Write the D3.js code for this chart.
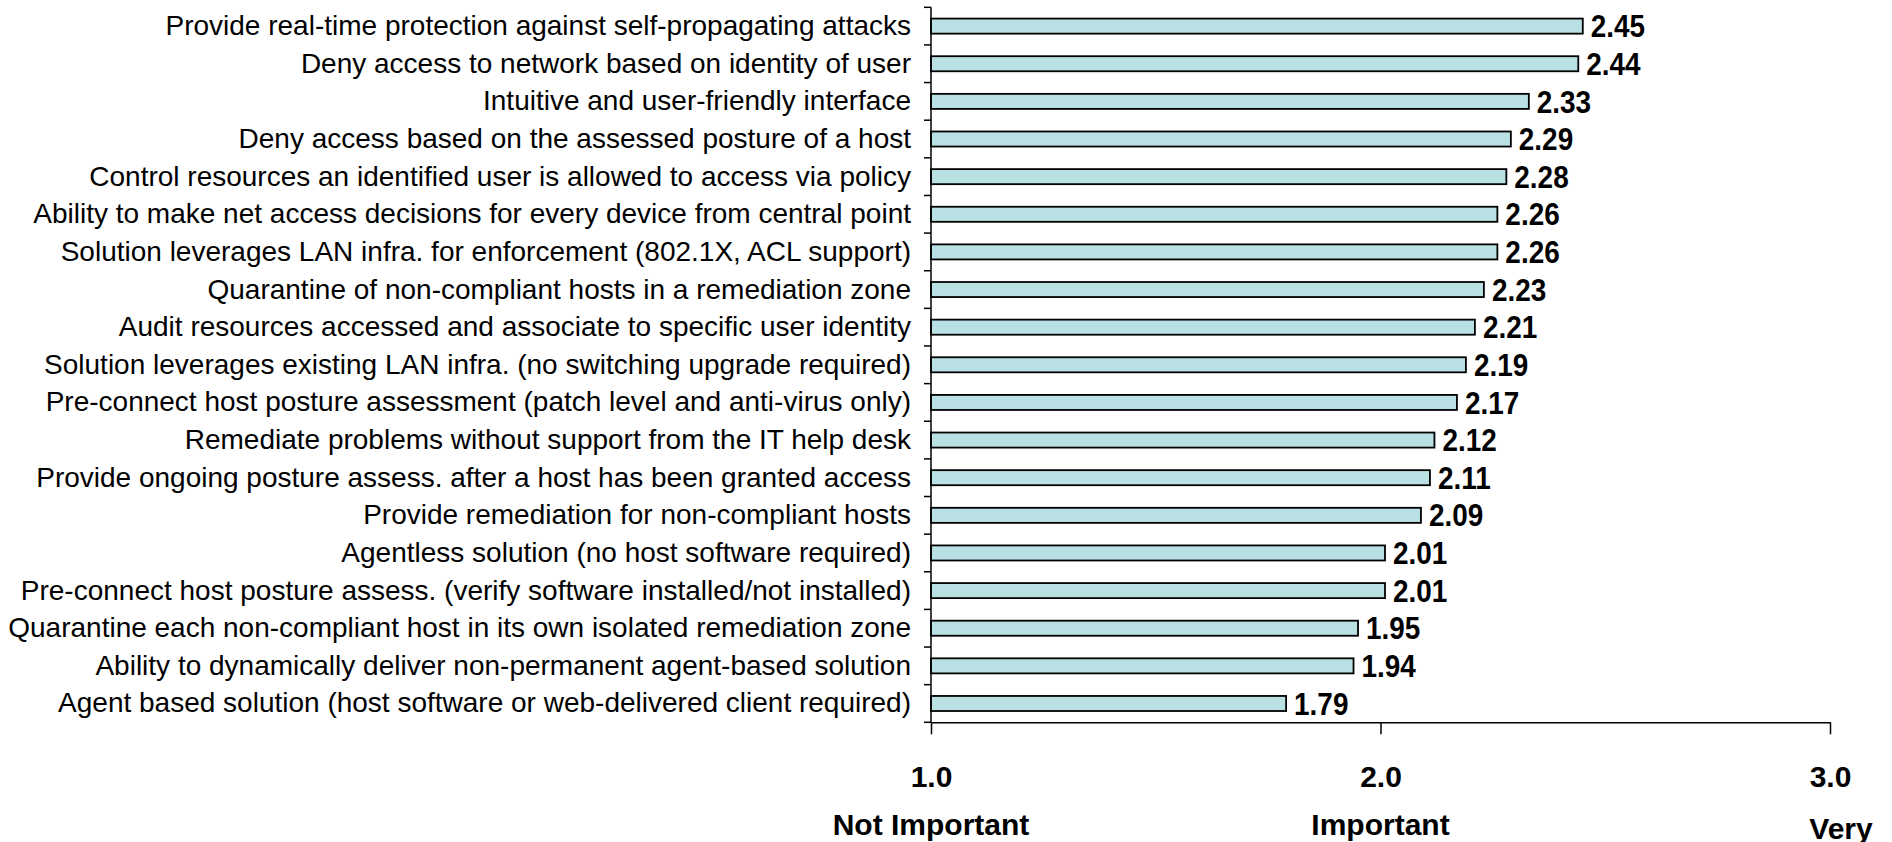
<!DOCTYPE html>
<html>
<head>
<meta charset="utf-8">
<script src="https://cdn.jsdelivr.net/npm/d3@7"></script>
<style>
  body { margin: 0; background: #fff; }
  svg { display: block; font-family: Arial, "Liberation Sans", sans-serif; }
</style>
</head>
<body>
<div id="chart_div"></div>
<script>
//* data
var features = [
    "Provide real-time protection against self-propagating attacks",
    "Deny access to network based on identity of user",
    "Intuitive and user-friendly interface",
    "Deny access based on the assessed posture of a host",
    "Control resources an identified user is allowed to access via policy",
    "Ability to make net access decisions for every device from central point",
    "Solution leverages LAN infra. for enforcement (802.1X, ACL support)",
    "Quarantine of non-compliant hosts in a remediation zone",
    "Audit resources accessed and associate to specific user identity",
    "Solution leverages existing LAN infra. (no switching upgrade required)",
    "Pre-connect host posture assessment (patch level and anti-virus only)",
    "Remediate problems without support from the IT help desk",
    "Provide ongoing posture assess. after a host has been granted access",
    "Provide remediation for non-compliant hosts",
    "Agentless solution (no host software required)",
    "Pre-connect host posture assess. (verify software installed/not installed)",
    "Quarantine each non-compliant host in its own isolated remediation zone",
    "Ability to dynamically deliver non-permanent agent-based solution",
    "Agent based solution (host software or web-delivered client required)"
]
var scores = [2.45, 2.44, 2.33, 2.29, 2.28, 2.26, 2.26, 2.23, 2.21, 2.19, 2.17, 2.12, 2.11, 2.09, 2.01, 2.01, 1.95, 1.94, 1.79]
var scaleTicks = [1, 2, 3]
var scaleNames = ["Not Important", "Important", "Very"]

var W = 1892, H = 842
var plotLeft = 931, plotRight = 1830, plotTop = 7.3, plotBottom = 722.3

var svg = d3.select("#chart_div").append("svg").attr("width", W).attr("height", H)

var x = d3.scaleLinear().domain([1, 3]).range([plotLeft, plotRight])
var y = d3.scaleBand().domain(features).range([plotTop, plotBottom]).paddingInner(0.6).paddingOuter(0.3)

//? bars
svg.append("g").selectAll("rect").data(features).join("rect")
    .attr("x", x(1))
    .attr("y", d => y(d))
    .attr("width", (d, i) => x(scores[i]) - x(1))
    .attr("height", y.bandwidth())
    .attr("fill", "#b9e1e4")
    .attr("stroke", "#000")
    .attr("stroke-width", 1.8)

//? value labels (font of the original is a bit narrower than Arial bold)
svg.append("g").selectAll("text").data(features).join("text")
    .attr("transform", (d, i) => "translate(" + (x(scores[i]) + 8) + "," + (y(d) + y.bandwidth() / 2) + ") scale(0.9,1)")
    .attr("dy", "0.36em")
    .style("font-size", "31px").style("font-weight", "bold")
    .text((d, i) => scores[i].toFixed(2))

//? category axis: labels in the middle, ticks on the boundaries
var yAxis = svg.append("g").attr("transform", "translate(" + plotLeft + ",0)")
    .call(d3.axisLeft(y).tickSize(0).tickPadding(20))
yAxis.select(".domain").remove()
yAxis.selectAll("text").style("font-size", "28px").style("font-family", "Arial, 'Liberation Sans', sans-serif").attr("fill", "#000")

var step = y.step()
svg.append("g").selectAll("line").data(d3.range(features.length + 1)).join("line")
    .attr("x1", plotLeft - 7).attr("x2", plotLeft)
    .attr("y1", i => plotTop + i * step).attr("y2", i => plotTop + i * step)
    .attr("stroke", "#000").attr("stroke-width", 1.5)
svg.append("line")
    .attr("x1", plotLeft).attr("x2", plotLeft).attr("y1", plotTop).attr("y2", plotBottom)
    .attr("stroke", "#000").attr("stroke-width", 1.5)

//? value axis
var xAxis = svg.append("g").attr("transform", "translate(0," + plotBottom + ")")
    .call(d3.axisBottom(x).tickValues(scaleTicks).tickSize(12).tickSizeOuter(0).tickPadding(31).tickFormat(d3.format(".1f")))
xAxis.select(".domain").attr("stroke-width", 1.5)
xAxis.selectAll(".tick line").attr("stroke-width", 1.5)
xAxis.selectAll("text").style("font-size", "30px").style("font-weight", "bold")
    .style("font-family", "Arial, 'Liberation Sans', sans-serif").attr("fill", "#000")

//? scale names under the ticks
svg.append("g").selectAll("text").data(scaleNames).join("text")
    .attr("x", (d, i) => x(scaleTicks[i]) + (i == scaleNames.length - 1 ? 11 : 0))
    .attr("y", (d, i) => i == scaleNames.length - 1 ? 839 : 835)
    .attr("text-anchor", "middle")
    .style("font-size", "30px").style("font-weight", "bold")
    .text(d => d)
</script>
</body>
</html>
